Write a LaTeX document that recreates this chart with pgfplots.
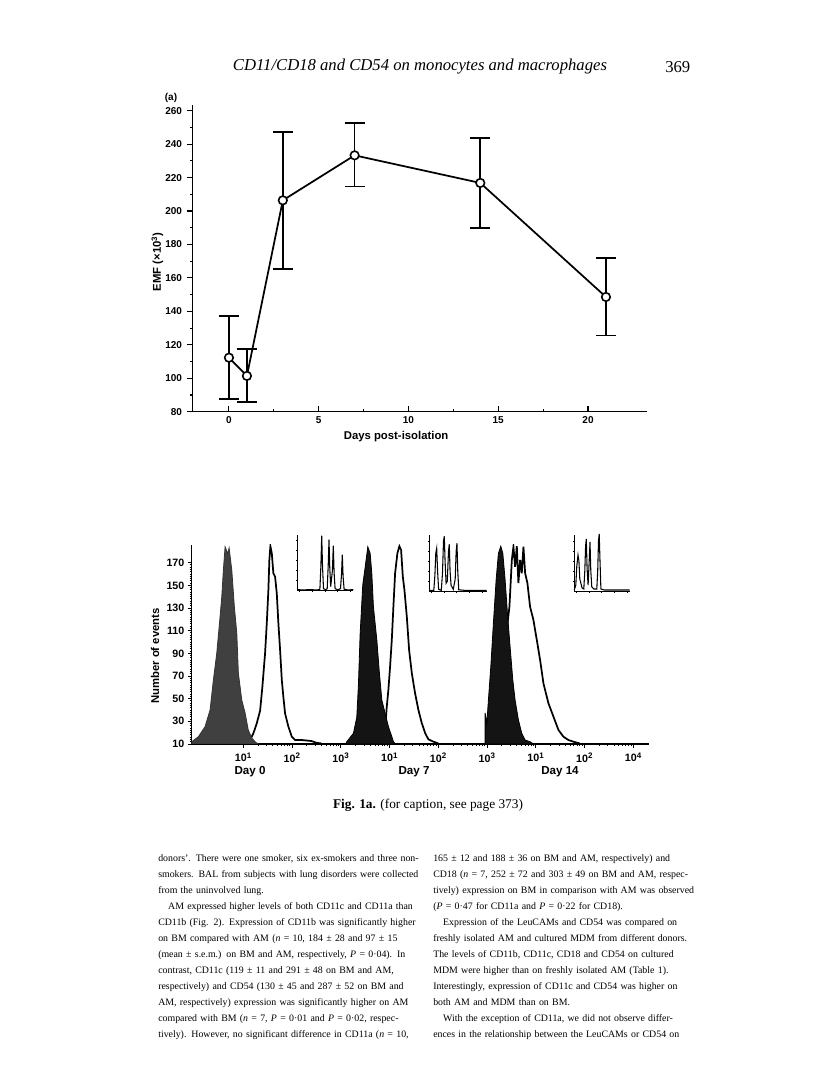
\documentclass[border=0pt]{standalone}
\usepackage{fontspec}
\setmainfont{Liberation Serif}
\setsansfont{Liberation Sans}
\usepackage{pgfplots}
\pgfplotsset{compat=1.18}
\usepackage{pgfplotstable}

% histogram outlines: u = decade position on the x axis, c = number of events
\pgfplotstableread{
u c
-0.06 10
-0.06 12
0.077 16.4
0.214 25.3
0.317 40
0.385 66.5
0.454 90
0.522 122.4
0.557 140
0.59 163.6
0.625 184
0.68 178
0.707 183
0.762 163.6
0.815 131
0.865 107.7
0.897 72.7
0.967 48.8
1.035 37.4
1.10 22.4
1.17 15.3
1.24 12
1.30 10
}\dayzerofill
\pgfplotstableread{
u c
1.10 10
1.137 13.5
1.205 19.4
1.275 28.3
1.343 39.4
1.39 60.6
1.445 90
1.48 116.5
1.513 145.9
1.533 172.4
1.554 184.5
1.583 178.3
1.615 160.7
1.65 157.7
1.685 143
1.718 116.5
1.753 93
1.788 66.5
1.82 51.7
1.855 37
1.923 25.3
1.993 16.4
2.06 13.5
2.2 13.5
2.4 12.6
2.5 11
2.6 10.5
}\dayzeroopen
\pgfplotstableread{
u c
3.10 10
3.12 12
3.257 19.4
3.326 33.6
3.36 62.4
3.394 106.5
3.449 150.6
3.496 165.4
3.552 184
3.6 178.3
3.634 160.7
3.667 131.2
3.737 101.8
3.79 72.4
3.84 48.8
3.907 37
3.975 25.3
4.045 16.4
4.077 12
4.12 10
}\daysevenfill
\pgfplotstableread{
u c
3.85 10
3.88 14
3.907 22.4
3.941 42.9
3.974 57.7
4.009 78.3
4.044 101.8
4.077 131.2
4.112 160.7
4.159 178.3
4.2 184.5
4.235 181.2
4.27 157.7
4.303 146
4.352 122.4
4.399 93
4.455 72.4
4.522 54.7
4.59 40
4.66 28.3
4.73 19.4
4.795 14.1
4.9 12
5.0 10.5
}\daysevenopen
\pgfplotstableread{
u c
5.958 10
5.958 37.4
5.993 28.3
6.026 48.8
6.075 78.3
6.128 116.5
6.184 154.8
6.231 178.3
6.28 184.5
6.321 178.3
6.368 154.8
6.416 125.3
6.47 95.9
6.526 66.5
6.573 48.8
6.641 31.2
6.71 19.4
6.779 13.5
6.88 12
6.95 10
}\dayfourteenfill
\pgfplotstableread{
u c
6.20 10
6.30 60
6.40 110
6.457 131.2
6.506 172.4
6.539 184.1
6.573 166.4
6.608 184.5
6.641 151.9
6.676 172.4
6.71 160.7
6.744 184.1
6.779 160.7
6.826 151.9
6.88 131.2
6.949 119.4
7.018 101.8
7.086 84.1
7.154 63.5
7.257 45.9
7.36 34.1
7.462 22.4
7.565 16.4
7.668 13.5
7.77 12
7.9 10.5
}\dayfourteenopen

\newcommand\jl[1]{\hbox to 195pt{#1}}
\newcommand\lastl[1]{\hbox{#1}}

\pgfplotsset{
  inset/.style={anchor=south west, scale only axis, axis lines=left,
    axis line style={-, line width=0.6pt}, ymin=0, ymax=56,
    xticklabels={}, yticklabels={}, tick align=outside,
    major tick length=1.3pt, tick style={line width=0.5pt, black}, clip=false},
}

\begin{document}
\begin{tikzpicture}[x=0.75pt,y=0.75pt]
\path[use as bounding box, fill=white] (0,0) rectangle (816,1084);

% running head
\node[font=\fontsize{12.5}{15}\selectfont\itshape] at (420,1017) {CD11/CD18 and CD54 on monocytes and macrophages};
\node[anchor=east, font=\fontsize{12.5}{15}\selectfont] at (695,1017) {369};

% ---- panel (a)
\node[font=\sffamily\bfseries\fontsize{7.5}{9}\selectfont] at (171,986) {(a)};
\begin{axis}[
  at={(144.525pt,504.225pt)}, anchor=south west,
  scale only axis, width=340.5pt, height=230pt,
  axis lines=left, axis line style={-, line width=0.9pt},
  xmin=-2.02, xmax=23.27, ymin=80, ymax=263.4,
  xtick={0,5,...,20}, ytick={80,100,...,260},
  minor x tick num=1, minor y tick num=1,
  xtick align=inside, ytick align=outside,
  major tick length=4.5pt, minor tick length=2.2pt,
  tick style={line width=0.8pt, black},
  ticklabel style={font=\sffamily\bfseries\fontsize{7.5}{9}\selectfont},
  /pgf/number format/assume math mode=true,
  xlabel={Days post-isolation}, ylabel={EMF (×10\textsuperscript{3})},
  label style={font=\sffamily\bfseries\fontsize{8.5}{10}\selectfont},
  xlabel style={at={(axis description cs:0.448,-0.0825)}, anchor=center},
  ylabel style={at={(axis description cs:-0.078,0.489)}, anchor=center},
  clip=false,
]
\addplot[black, line width=1.3pt, mark=*, mark size=3.2pt,
  mark options={fill=white, line width=1.2pt},
  error bars/.cd, y dir=both, y explicit,
  error bar style={line width=1.3pt},
  error mark options={black, rotate=90, line width=1.3pt, mark size=7.5pt}]
coordinates {
  (0,112.3) += (0,24.9) -= (0,24.7)
  (1,101.4) += (0,16.1) -= (0,15.8)
  (3,206.4) += (0,40.7) -= (0,41.2)
  (7,233.3) += (0,19.2) -= (0,18.7)
  (14,216.8) += (0,26.9) -= (0,26.8)
  (21,148.6) += (0,23.3) -= (0,23.1)
};
\end{axis}

% ---- flow cytometry histograms
\begin{axis}[
  at={(143.775pt,255pt)}, anchor=south west,
  scale only axis, width=343pt, height=149.25pt,
  axis lines=left, axis line style={-, line width=1pt},
  xmode=log, xmin=0.871, xmax=2.09e9, ymin=10, ymax=185.6,
  xtick={1e1,1e2,1e3,1e4,1e5,1e6,1e7,1e8,1e9},
  xticklabels={10\textsuperscript{1},10\textsuperscript{2},10\textsuperscript{3},
    10\textsuperscript{1},10\textsuperscript{2},10\textsuperscript{3},
    10\textsuperscript{1},10\textsuperscript{2},10\textsuperscript{4}},
  ytick={10,30,...,170}, minor y tick num=9,
  tick align=outside, major tick length=3pt, minor tick length=1.6pt,
  tick style={line width=0.7pt, black},
  ticklabel style={font=\sffamily\bfseries\fontsize{8}{10}\selectfont},
  yticklabel style={xshift=1pt},
  /pgf/number format/assume math mode=true,
  ylabel={Number of events},
  label style={font=\sffamily\bfseries\fontsize{8.5}{10}\selectfont},
  ylabel style={at={(axis description cs:-0.08,0.442)}, anchor=center},
]
\addplot[draw=black, line width=1.3pt] table[x expr=10^(\thisrow{u}), y=c] {\dayzeroopen};
\addplot[draw=black!80, fill=black!75, line width=0.6pt] table[x expr=10^(\thisrow{u}), y=c] {\dayzerofill} \closedcycle;
\addplot[draw=black, line width=1.3pt] table[x expr=10^(\thisrow{u}), y=c] {\daysevenopen};
\addplot[draw=black, fill=black!92, line width=0.6pt] table[x expr=10^(\thisrow{u}), y=c] {\daysevenfill} \closedcycle;
\addplot[draw=black, line width=1.3pt] table[x expr=10^(\thisrow{u}), y=c] {\dayfourteenopen};
\addplot[draw=black, fill=black!92, line width=0.6pt] table[x expr=10^(\thisrow{u}), y=c] {\dayfourteenfill} \closedcycle;
\end{axis}

% bead calibration insets
\begin{axis}[inset, at={(223.275pt,369.975pt)}, width=41.7pt, height=42pt,
  xmin=0, xmax=55.6, xtick={2,14.7,27.4,40.1,52.8}, ytick={10,20,30,40,50}]
\addplot[black, line width=0.8pt] coordinates {
  (0,1) (5,0.8) (12,1) (20,0.8) (22.2,1.5) (23.2,25) (24,55) (24.8,25) (25.8,2)
  (28,1) (29.5,2) (30.5,25) (31.3,51) (32.1,22) (33,4) (34.7,20) (35.6,45)
  (36.4,18) (37.4,2) (40,1) (42.8,2) (43.8,16) (44.6,36) (45.4,14) (46.4,1.5)
  (50,0.8) (55.6,1)};
\end{axis}
\begin{axis}[inset, at={(321.975pt,369.525pt)}, width=43pt, height=42pt,
  xmin=0, xmax=57.4, xtick={2,14.7,27.4,40.1,52.8}, ytick={10,20,30,40,50}]
\addplot[black, line width=0.8pt] coordinates {
  (0,1) (4.5,1) (5.6,16) (6.5,38) (7.4,43) (8.3,20) (9.3,2) (12,1) (13.2,18)
  (14.2,50) (15,55) (15.8,30) (16.8,8) (18,10) (19.2,40) (20,47) (20.8,20)
  (21.8,6) (24,2) (25.9,12) (26.9,40) (27.7,48) (28.5,20) (29.5,1.5) (35,1)
  (57.4,1)};
\end{axis}
\begin{axis}[inset, at={(430.725pt,369.75pt)}, width=41.4pt, height=42pt,
  xmin=0, xmax=55.2, xtick={2,14.7,27.4,40.1,52.8}, ytick={10,20,30,40,50}]
\addplot[black, line width=0.8pt] coordinates {
  (0,1) (1.5,6) (2.5,25) (3.7,36) (4.6,30) (5.5,12) (6.5,8) (7.8,3) (9.5,2)
  (10.5,20) (11.3,45) (12,52) (12.8,22) (13.8,6) (14.9,30) (15.7,49) (16.5,20)
  (17.5,4) (19.5,2) (22.5,2) (23.4,20) (24.2,50) (24.9,57) (25.7,30) (26.6,2)
  (30,1) (55.2,1)};
\end{axis}

\begin{scope}[every node/.style={font=\sffamily\bfseries\fontsize{8.7}{10}\selectfont}]
\node at (250,312) {Day 0};
\node at (414,312) {Day 7};
\node at (560,312) {Day 14};
\end{scope}

% caption
\node[font=\fontsize{10}{12}\selectfont] at (428,279) {\textbf{Fig. 1a.} (for caption, see page 373)};

% body text, two columns
\node[anchor=north west, inner sep=0pt, text width=195pt, font=\fontsize{7.4}{12}\selectfont] at (158,229.5) {%
\jl{donors'. There were one smoker, six ex-smokers and three non-}
\jl{smokers. BAL from subjects with lung disorders were collected}
\lastl{from the uninvolved lung.}
\jl{\hskip1em AM expressed higher levels of both CD11c and CD11a than}
\jl{CD11b (Fig. 2). Expression of CD11b was significantly higher}
\jl{on BM compared with AM (\textit{n} = 10, 184 ± 28 and 97 ± 15}
\jl{(mean ± s.e.m.) on BM and AM, respectively, \textit{P} = 0·04). In}
\jl{contrast, CD11c (119 ± 11 and 291 ± 48 on BM and AM,}
\jl{respectively) and CD54 (130 ± 45 and 287 ± 52 on BM and}
\jl{AM, respectively) expression was significantly higher on AM}
\jl{compared with BM (\textit{n} = 7, \textit{P} = 0·01 and \textit{P} = 0·02, respec-}
\jl{tively). However, no significant difference in CD11a (\textit{n} = 10,}};
\node[anchor=north west, inner sep=0pt, text width=195pt, font=\fontsize{7.4}{12}\selectfont] at (433,229.5) {%
\jl{165 ± 12 and 188 ± 36 on BM and AM, respectively) and}
\jl{CD18 (\textit{n} = 7, 252 ± 72 and 303 ± 49 on BM and AM, respec-}
\jl{tively) expression on BM in comparison with AM was observed}
\lastl{(\textit{P} = 0·47 for CD11a and \textit{P} = 0·22 for CD18).}
\jl{\hskip1em Expression of the LeuCAMs and CD54 was compared on}
\jl{freshly isolated AM and cultured MDM from different donors.}
\jl{The levels of CD11b, CD11c, CD18 and CD54 on cultured}
\jl{MDM were higher than on freshly isolated AM (Table 1).}
\jl{Interestingly, expression of CD11c and CD54 was higher on}
\lastl{both AM and MDM than on BM.}
\jl{\hskip1em With the exception of CD11a, we did not observe differ-}
\jl{ences in the relationship between the LeuCAMs or CD54 on}};
\end{tikzpicture}
\end{document}
